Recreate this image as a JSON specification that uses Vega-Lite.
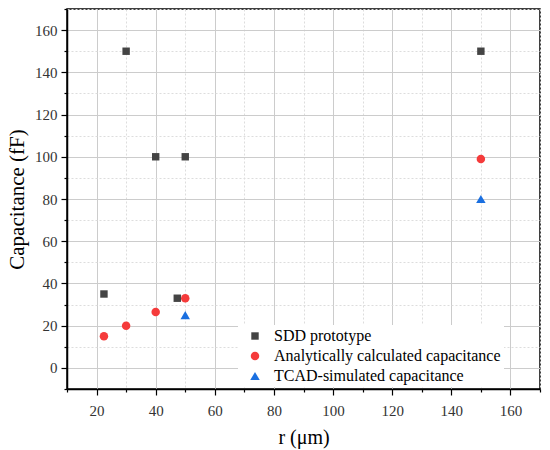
{
  "$schema": "https://vega.github.io/schema/vega-lite/v6.json",
  "width": 473,
  "height": 380,
  "autosize": "none",
  "padding": {"left": 67, "top": 9, "right": 10, "bottom": 61},
  "background": "white",
  "config": {
    "font": "Liberation Serif",
    "view": {"stroke": "black", "strokeWidth": 1.5},
    "axis": {
      "domainColor": "black",
      "domainWidth": 1.5,
      "tickColor": "black",
      "tickWidth": 1.2,
      "labelFont": "Liberation Serif",
      "labelFontSize": 15,
      "labelColor": "#333",
      "titleFont": "Liberation Serif",
      "titleFontWeight": "normal",
      "titleColor": "black"
    }
  },
  "data": {
    "values": [
      {"r": 22.5, "c": 35, "series": "SDD prototype"},
      {"r": 30, "c": 150, "series": "SDD prototype"},
      {"r": 40, "c": 100, "series": "SDD prototype"},
      {"r": 47.3, "c": 33, "series": "SDD prototype"},
      {"r": 50, "c": 100, "series": "SDD prototype"},
      {"r": 150, "c": 150, "series": "SDD prototype"},
      {"r": 22.5, "c": 15, "series": "Analytically calculated capacitance"},
      {"r": 30, "c": 20, "series": "Analytically calculated capacitance"},
      {"r": 40, "c": 26.5, "series": "Analytically calculated capacitance"},
      {"r": 50, "c": 33, "series": "Analytically calculated capacitance"},
      {"r": 150, "c": 99, "series": "Analytically calculated capacitance"},
      {"r": 50, "c": 25, "series": "TCAD-simulated capacitance"},
      {"r": 150, "c": 80, "series": "TCAD-simulated capacitance"}
    ]
  },
  "mark": {"type": "point", "filled": true, "opacity": 1},
  "encoding": {
    "x": {
      "field": "r",
      "type": "quantitative",
      "title": "r (μm)",
      "scale": {"domain": [10, 170], "nice": false, "zero": false},
      "axis": {
        "values": [10, 20, 30, 40, 50, 60, 70, 80, 90, 100, 110, 120, 130, 140, 150, 160, 170],
        "labelExpr": "datum.value % 20 === 0 ? datum.label : ''",
        "grid": true,
        "gridColor": {"condition": {"test": "datum.value % 20 === 0", "value": "#cccccc"}, "value": "#dddddd"},
        "gridDash": {"condition": {"test": "datum.value % 20 === 0", "value": []}, "value": [2, 2]},
        "gridWidth": 1,
        "tickSize": {"condition": {"test": "datum.value % 20 === 0", "value": 6}, "value": 3},
        "labelPadding": 8,
        "titleFontSize": 20,
        "titlePadding": 9
      }
    },
    "y": {
      "field": "c",
      "type": "quantitative",
      "title": "Capacitance (fF)",
      "scale": {"domain": [-10, 170], "nice": false, "zero": false},
      "axis": {
        "values": [-10, 0, 10, 20, 30, 40, 50, 60, 70, 80, 90, 100, 110, 120, 130, 140, 150, 160, 170],
        "labelExpr": "datum.value % 20 === 0 ? datum.label : ''",
        "grid": true,
        "gridColor": {"condition": {"test": "datum.value % 20 === 0", "value": "#cccccc"}, "value": "#dddddd"},
        "gridDash": {"condition": {"test": "datum.value % 20 === 0", "value": []}, "value": [2, 2]},
        "gridWidth": 1,
        "tickSize": {"condition": {"test": "datum.value % 20 === 0", "value": 6}, "value": 3},
        "labelPadding": 4,
        "titleFontSize": 21,
        "titlePadding": 7
      }
    },
    "color": {
      "field": "series",
      "type": "nominal",
      "sort": ["SDD prototype", "Analytically calculated capacitance", "TCAD-simulated capacitance"],
      "scale": {
        "domain": ["SDD prototype", "Analytically calculated capacitance", "TCAD-simulated capacitance"],
        "range": ["#444444", "#f53b3b", "#1a6fe0"]
      },
      "legend": {
        "title": null,
        "orient": "none",
        "legendX": 171,
        "legendY": 316,
        "fillColor": "white",
        "padding": 3,
        "symbolOffset": 6,
        "labelFontSize": 16,
        "labelFont": "Liberation Serif",
        "labelColor": "black",
        "labelLimit": 400,
        "rowPadding": 4,
        "labelOffset": 11
      }
    },
    "shape": {
      "field": "series",
      "type": "nominal",
      "sort": ["SDD prototype", "Analytically calculated capacitance", "TCAD-simulated capacitance"],
      "scale": {
        "domain": ["SDD prototype", "Analytically calculated capacitance", "TCAD-simulated capacitance"],
        "range": ["square", "circle", "triangle-up"]
      }
    },
    "size": {
      "field": "series",
      "type": "nominal",
      "sort": ["SDD prototype", "Analytically calculated capacitance", "TCAD-simulated capacitance"],
      "scale": {
        "domain": ["SDD prototype", "Analytically calculated capacitance", "TCAD-simulated capacitance"],
        "range": [55, 90, 150]
      }
    }
  }
}
